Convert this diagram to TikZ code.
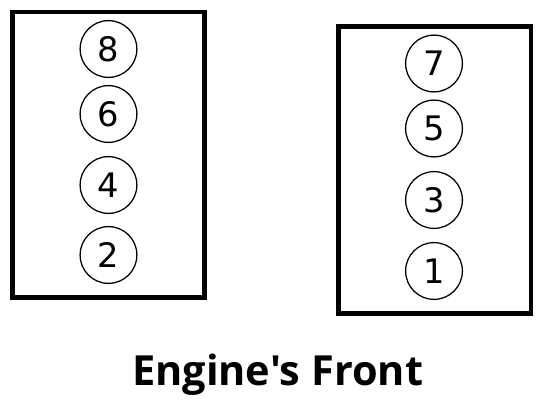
\documentclass[tikz,border=0pt]{standalone}
\usepackage{fontspec}
\usepackage{tikz}
\newfontfamily\digitfont{DejaVu Sans}
\newfontfamily\titlefont{Open Sans}

\tikzset{
  cyl/.style={draw, circle, line width=0.9pt, minimum size=1.42cm, inner sep=0pt,
              font=\digitfont\fontsize{24}{24}\selectfont},
  bank/.style={line width=3.5pt}
}

\begin{document}
\begin{tikzpicture}
  \useasboundingbox (0,0) rectangle (14,10.1);
  % cylinder banks
  \draw[bank] (0.3125,2.6625) rectangle (5.1125,9.8);
  \draw[bank] (8.4625,2.2625) rectangle (13.275,9.4375);
  % left bank: even cylinders
  \node[cyl] (c8) at (2.7125,8.875) {8};
  \node[cyl] (c6) at (2.7125,7.25)  {6};
  \node[cyl] (c4) at (2.7125,5.475) {4};
  \node[cyl] (c2) at (2.7125,3.725) {2};
  % right bank: odd cylinders
  \node[cyl] (c7) at (10.85,8.5125) {7};
  \node[cyl] (c5) at (10.85,6.8875) {5};
  \node[cyl] (c3) at (10.85,5.1)    {3};
  \node[cyl] (c1) at (10.85,3.325)  {1};
  \node[font=\titlefont\bfseries\fontsize{29.5}{29.5}\selectfont] (front) at (6.94,0.72) {Engine's Front};
\end{tikzpicture}
\end{document}
